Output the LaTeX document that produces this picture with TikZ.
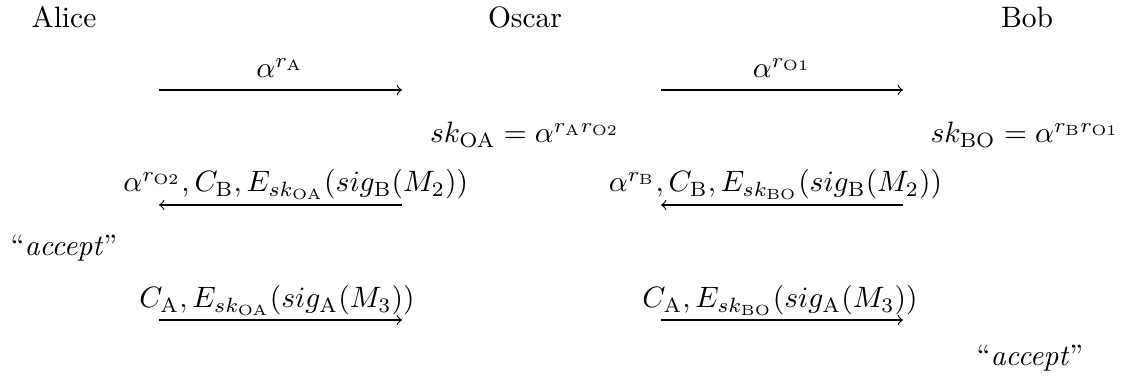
\documentclass[tikz,border=0pt]{standalone}
\usepackage{amsmath}
\begin{document}
\begin{tikzpicture}[x=0.339pt,y=-0.339pt,
  lbl/.style={inner sep=0pt,outer sep=0pt,anchor=base},
  msg/.style={line width=0.4pt,->}]
\useasboundingbox (0,0) rectangle (1135,383);
% parties
\node[lbl] (alice) at (64,28) {Alice};
\node[lbl] (oscar) at (525,28) {Oscar};
\node[lbl] (bob) at (1027,28) {Bob};
% row 1
\coordinate (a1s) at (159,90); \coordinate (a1e) at (402,90);
\coordinate (b1s) at (661,90); \coordinate (b1e) at (903,90);
\draw[msg] (a1s) -- (a1e);
\draw[msg] (b1s) -- (b1e);
\node[lbl] (m1) at (280,78) {$\alpha^{r_{\mathrm{A}}}$};
\node[lbl] (m2) at (782,78) {$\alpha^{r_{\mathrm{O1}}}$};
% keys
\node[lbl] (koa) at (525,143) {$sk_{\mathrm{OA}} = \alpha^{r_{\mathrm{A}}r_{\mathrm{O2}}}$};
\node[lbl] (kbo) at (1025,143) {$sk_{\mathrm{BO}} = \alpha^{r_{\mathrm{B}}r_{\mathrm{O1}}}$};
% row 3
\coordinate (a3s) at (402,205); \coordinate (a3e) at (159,205);
\coordinate (b3s) at (903,205); \coordinate (b3e) at (661,205);
\draw[msg] (a3s) -- (a3e);
\draw[msg] (b3s) -- (b3e);
\node[lbl,anchor=base east] (m3) at (468,192) {$\alpha^{r_{\mathrm{O2}}}, C_{\mathrm{B}}, E_{sk_{\mathrm{OA}}}(sig_{\mathrm{B}}(M_2))$};
\node[lbl,anchor=base east] (m4) at (942,192) {$\alpha^{r_{\mathrm{B}}}, C_{\mathrm{B}}, E_{sk_{\mathrm{BO}}}(sig_{\mathrm{B}}(M_2))$};
% accept A
\node[lbl] (accA) at (64,256) {``\textit{accept}''};
% row 5
\coordinate (a5s) at (159,320); \coordinate (a5e) at (402,320);
\coordinate (b5s) at (661,320); \coordinate (b5e) at (903,320);
\draw[msg] (a5s) -- (a5e);
\draw[msg] (b5s) -- (b5e);
\node[lbl] (m5) at (277,308) {$C_{\mathrm{A}}, E_{sk_{\mathrm{OA}}}(sig_{\mathrm{A}}(M_3))$};
\node[lbl] (m6) at (780,308) {$C_{\mathrm{A}}, E_{sk_{\mathrm{BO}}}(sig_{\mathrm{A}}(M_3))$};
% accept B
\node[lbl] (accB) at (1030,366) {``\textit{accept}''};
\end{tikzpicture}
\end{document}
